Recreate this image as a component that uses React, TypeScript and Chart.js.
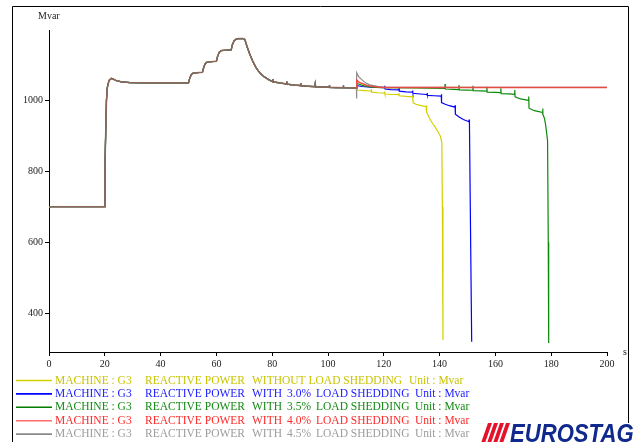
import React, { useEffect, useRef } from "react";
import { Chart, registerables } from "chart.js";

Chart.register(...registerables);

// ---- data (time in s, reactive power in Mvar) ----
const COMMON_T = [0, 20, 20.05, 20.3, 20.6, 20.9, 21.5, 22.3, 23, 24, 26, 29, 35, 50, 50.4, 50.9, 51.5, 53, 55, 55.4, 55.9, 56.5, 58, 60, 60.4, 61, 61.7, 63, 65.3, 65.7, 66.3, 67, 68, 69.5, 70.2, 71, 72, 73, 74, 75, 76, 77, 78, 79, 80.1, 80.2, 80.3, 82, 85.1, 85.2, 85.3, 88, 90.2, 90.3, 90.4, 93, 95.3, 95.4, 95.5, 98, 100.4, 100.5, 100.6, 103, 105.4, 105.5, 105.6, 110.2];
const COMMON_V = [700, 700, 810, 900, 1000, 1035, 1055, 1061, 1059, 1055, 1051, 1049, 1048.5, 1048.5, 1060, 1070, 1075, 1077, 1078, 1090, 1101, 1106, 1108, 1109, 1122, 1134, 1139, 1140, 1141, 1155, 1166, 1171, 1173, 1173, 1170, 1150, 1128, 1110, 1094, 1082, 1073, 1066, 1061, 1056, 1052, 1059, 1051, 1049, 1045, 1052, 1044.5, 1042, 1040.5, 1047, 1040, 1038.5, 1037.5, 1043.5, 1037, 1036.5, 1036, 1042, 1035.5, 1035, 1034.5, 1041, 1034.5, 1034];

const YELLOW_T = [110.35, 113, 115.5, 115.55, 115.6, 118, 120.3, 120.35, 120.4, 123, 125.4, 125.45, 125.5, 128, 130.3, 130.35, 130.5, 131.5, 133, 135.2, 135.25, 135.4, 136, 136.6, 137.5, 138.3, 139.3, 140.3, 140.8, 141.0, 141.2];
const YELLOW_V = [1028, 1026.5, 1025.5, 1030, 1022, 1020.5, 1019.5, 1024, 1017, 1015.5, 1015, 1019, 1012, 1010, 1009, 1013, 992, 988, 985, 981, 985, 966, 955, 945, 934, 925, 912, 898, 880, 700, 325];

const BLUE_T = [110.35, 112, 115.5, 115.55, 115.6, 120.3, 120.35, 120.45, 122.5, 125.4, 125.45, 125.55, 128, 130.3, 130.35, 130.45, 133, 135.5, 135.55, 135.65, 138, 140.6, 140.65, 140.75, 142, 143.5, 145.5, 145.55, 145.65, 147, 148.5, 150.5, 150.55, 150.7, 151.0, 151.5];
const BLUE_V = [1041, 1038, 1036, 1041, 1036, 1035, 1040, 1031, 1029.5, 1028.5, 1033, 1025, 1023, 1022, 1027, 1019, 1017, 1015.5, 1020, 1013, 1012, 1011, 1016, 993, 988, 984, 980, 985, 960, 952, 945, 939, 945, 934, 700, 320];

const GREEN_T = [110.35, 111, 112, 113, 114, 115, 117, 120, 130, 141.9, 141.95, 142.05, 145, 146.9, 146.95, 147.05, 150, 151.9, 151.95, 152.05, 155, 156.9, 156.95, 157.05, 160, 161.9, 161.95, 162.05, 165, 166.9, 166.95, 167.05, 169, 171.9, 171.95, 172.05, 174, 176.9, 176.95, 177.05, 177.6, 178.0, 178.4, 178.7, 178.95, 179.1];
const GREEN_V = [1047, 1045, 1042, 1040, 1038.5, 1037, 1035.5, 1034.5, 1034, 1033, 1045, 1031, 1030, 1029.5, 1042, 1028.5, 1028, 1027.5, 1040, 1026, 1025.5, 1025, 1037, 1022, 1021.5, 1021, 1033, 1018, 1017, 1016, 1028, 1009, 1003, 999, 1010, 977, 970, 965, 976, 960, 948, 930, 905, 885, 600, 316];

const RED_T = [110.3, 111, 112, 113, 114, 115, 116, 118, 120, 200];
const RED_V = [1056, 1051, 1047, 1044, 1041, 1039.5, 1038, 1036.5, 1035.5, 1035];

const GRAY_T = [110.25, 110.3, 111, 112, 113, 114, 115, 116, 118, 120, 125, 200];
const GRAY_V = [1004, 1077, 1066, 1058, 1051, 1046, 1043, 1041, 1038, 1036.5, 1035.5, 1035.5];

const X_TICKS = [0, 20, 40, 60, 80, 100, 120, 140, 160, 180, 200];
const Y_TICKS = [400, 600, 800, 1000];

// legend texts (order as in the legend)
const LEG_MACHINE = "MACHINE : G3";
const LEG_QTY = "REACTIVE POWER";
const LEG_UNIT = "Unit : Mvar";
const LEG_CASE = ["WITHOUT LOAD SHEDDING", "WITH", "WITH", "WITH", "WITH"];
const LEG_PCT = ["", "3.0%", "3.5%", "4.0%", "4.5%"];
const LEG_SHED = ["", "LOAD SHEDDING", "LOAD SHEDDING", "LOAD SHEDDING", "LOAD SHEDDING"];
const LEG_LINE_COLORS = ["#d2d200", "#0000ff", "#007a00", "#ff6a6a", "#8a8a8a"];
const LEG_TEXT_COLORS = ["#c9c400", "#1a1aff", "#138a13", "#ff2a2a", "#9c9c9c"];

const SERIF = "'Liberation Serif', 'Times New Roman', serif";

function pts(ts: number[], vs: number[]) {
  return ts.map((t, i) => ({ x: t, y: vs[i] }));
}
const common = pts(COMMON_T, COMMON_V);

const overlay = {
  id: "overlay",
  afterDraw(chart: any) {
    const ctx = chart.ctx as CanvasRenderingContext2D;
    ctx.save();
    // frame
    ctx.strokeStyle = "#000";
    ctx.lineWidth = 1;
    ctx.beginPath();
    ctx.moveTo(12.5, 442);
    ctx.lineTo(12.5, 6.5);
    ctx.lineTo(628.5, 6.5);
    ctx.lineTo(628.5, 423);
    ctx.stroke();

    // axis titles
    ctx.fillStyle = "#222";
    ctx.font = `10px ${SERIF}`;
    ctx.textBaseline = "middle";
    ctx.textAlign = "left";
    ctx.fillText("Mvar", 38, 16);
    ctx.fillText("s", 623, 352);

    // legend
    const colX = [55, 145, 252, 287, 316];
    for (let i = 0; i < 5; i++) {
      const y = 380.5 + i * 13.4;
      ctx.strokeStyle = LEG_LINE_COLORS[i];
      ctx.lineWidth = 1.6;
      ctx.beginPath();
      ctx.moveTo(16, y);
      ctx.lineTo(52, y);
      ctx.stroke();
      ctx.fillStyle = LEG_TEXT_COLORS[i];
      ctx.font = `11.5px ${SERIF}`;
      ctx.fillText(LEG_MACHINE, colX[0], y);
      ctx.fillText(LEG_QTY, colX[1], y);
      ctx.fillText(LEG_CASE[i], colX[2], y);
      if (LEG_PCT[i]) {
        ctx.fillText(LEG_PCT[i], colX[3], y);
        ctx.fillText(LEG_SHED[i], colX[4], y);
        ctx.fillText(LEG_UNIT, 415, y);
      } else {
        ctx.fillText(LEG_UNIT, 409, y);
      }
    }

    // logo
    ctx.fillStyle = "#e3132c";
    for (let k = 0; k < 4; k++) {
      const x0 = 481 + k * 6;
      ctx.beginPath();
      ctx.moveTo(x0, 443);
      ctx.lineTo(x0 + 4, 443);
      ctx.lineTo(x0 + 11, 423);
      ctx.lineTo(x0 + 7, 423);
      ctx.closePath();
      ctx.fill();
    }
    ctx.translate(510, 442);
    ctx.scale(0.85, 1);
    ctx.font = "italic bold 26px 'Liberation Sans', Arial, sans-serif";
    ctx.fillStyle = "#10298c";
    ctx.textBaseline = "alphabetic";
    ctx.fillText("EUROSTAG", 0, 0);
    ctx.restore();
  },
};

export default function App() {
  const ref = useRef<HTMLCanvasElement | null>(null);
  useEffect(() => {
    document.body.style.margin = "0";
    const canvas = ref.current!;
    const BROWN = "#8c6658";
    const mk = (label: string, color: string, tail: any[], width = 1.2) => ({
      label,
      data: [...common, ...tail],
      borderColor: color,
      borderWidth: width,
      pointRadius: 0,
      tension: 0,
      fill: false,
    });
    const red: any = mk("4.0%", "#e84a44", pts(RED_T, RED_V), 1.5);
    red.segment = {
      borderColor: (c: any) => (c.p1.parsed.x <= 110.2 ? BROWN : "#e84a44"),
    };
    const chart = new Chart(canvas, {
      type: "line",
      data: {
        datasets: [
          red,
          mk("4.5%", "#8a8a8a", pts(GRAY_T, GRAY_V), 1.2),
          mk("3.5%", "#0a8a0a", pts(GREEN_T, GREEN_V), 1.2),
          mk("3.0%", "#0000ff", pts(BLUE_T, BLUE_V), 1.2),
          mk("none", "#d4d000", pts(YELLOW_T, YELLOW_V), 1.2),
        ],
      },
      options: {
        animation: false,
        responsive: false,
        devicePixelRatio: 1,
        layout: { padding: { top: 30, right: 29, left: 0, bottom: 0 } },
        plugins: { legend: { display: false }, tooltip: { enabled: false } },
        scales: {
          x: {
            type: "linear",
            min: 0,
            max: 200,
            afterBuildTicks: (s: any) => {
              s.ticks = X_TICKS.map((v) => ({ value: v }));
            },
            afterFit: (s: any) => {
              s.height = 90;
            },
            grid: { display: true, drawOnChartArea: false, drawTicks: true, tickLength: 4, color: "#000" },
            border: { display: true, color: "#000", width: 1 },
            ticks: {
              font: { family: SERIF, size: 10 },
              color: "#222",
              padding: 2,
              maxRotation: 0,
              callback: (v: any) => String(v),
            },
          },
          y: {
            type: "linear",
            min: 291,
            max: 1197,
            afterBuildTicks: (s: any) => {
              s.ticks = Y_TICKS.map((v) => ({ value: v }));
            },
            afterFit: (s: any) => {
              s.width = 49;
            },
            grid: { display: true, drawOnChartArea: false, drawTicks: true, tickLength: 4, color: "#000" },
            border: { display: true, color: "#000", width: 1 },
            ticks: {
              font: { family: SERIF, size: 10 },
              color: "#222",
              padding: 2,
              callback: (v: any) => String(v),
            },
          },
        },
      },
      plugins: [overlay],
    } as any);
    return () => chart.destroy();
  }, []);
  return <canvas ref={ref} width={636} height={442} style={{ display: "block", width: 636, height: 442 }} />;
}
